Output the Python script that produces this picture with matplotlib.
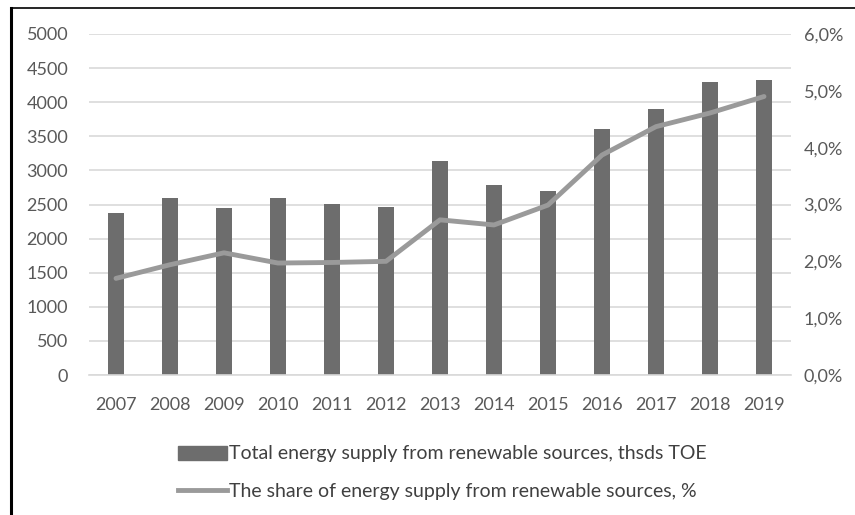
import numpy as np
import matplotlib.pyplot as plt
from matplotlib.lines import Line2D
from matplotlib.ticker import FuncFormatter

plt.rcParams['font.family'] = ['Lato', 'DejaVu Sans']

years = ['2007', '2008', '2009', '2010', '2011', '2012', '2013',
         '2014', '2015', '2016', '2017', '2018', '2019']
supply = [2380, 2600, 2450, 2600, 2505, 2460, 3140,
          2790, 2700, 3600, 3900, 4300, 4330]  # thsds TOE
share = [1.70, 1.94, 2.15, 1.97, 1.98, 2.00, 2.73,
         2.64, 2.99, 3.87, 4.37, 4.61, 4.90]  # %

bar_col = '#6d6d6d'
line_col = '#9a9a9a'
txt_col = '#595959'
fs = 13

fig = plt.figure(figsize=(8.55, 5.15), dpi=100)
ax = fig.add_axes([89/855, 1-375/515, (791-89)/855, (375-34)/515])
x = np.arange(len(years))

ax.bar(x, supply, width=0.3, color=bar_col, zorder=2)
ax.set_xlim(-0.5, len(years)-0.5)
ax.set_ylim(0, 5000)
ax.set_yticks(np.arange(0, 5001, 500))
ax.set_xticks(x)
ax.set_xticklabels(years)
ax.grid(axis='y', color='#d9d9d9', linewidth=1.2, zorder=0)
for s in ['top', 'right', 'left']:
    ax.spines[s].set_visible(False)
ax.spines['bottom'].set_color('#d9d9d9')
ax.spines['bottom'].set_linewidth(1.2)
ax.tick_params(length=0, labelsize=fs, colors=txt_col)
ax.tick_params(axis='x', pad=16)
ax.tick_params(axis='y', pad=15)

ax2 = ax.twinx()
ax2.plot(x, share, color=line_col, linewidth=3.5, solid_capstyle='round', zorder=3)
ax2.set_ylim(0, 6)
ax2.set_yticks(np.arange(0, 6.1, 1))
ax2.yaxis.set_major_formatter(FuncFormatter(lambda v, p: f'{v:.1f}%'.replace('.', ',')))
for s in ['top', 'right', 'left', 'bottom']:
    ax2.spines[s].set_visible(False)
ax2.tick_params(length=0, labelsize=fs, colors=txt_col, pad=9)

handles = [plt.Rectangle((0, 0), 1, 1, color=bar_col),
           Line2D([0], [0], color=line_col, linewidth=3.5)]
labels = ['Total energy supply from renewable sources, thsds TOE',
          'The share of energy supply from renewable sources, %']
fig.legend(handles, labels, loc='upper left', bbox_to_anchor=(160/855, 1-428/515),
           frameon=False, fontsize=14, labelcolor='#404040', handlelength=2.55,
           handletextpad=0.1, labelspacing=1.05)

# frame lines on the left and top
fig.add_artist(Line2D([11/855, 11/855], [0, 1-8/515], color='black', linewidth=2.2))
fig.add_artist(Line2D([11/855, 1], [1-8/515, 1-8/515], color='black', linewidth=1.2))

fig.savefig('out.png', dpi=100)
